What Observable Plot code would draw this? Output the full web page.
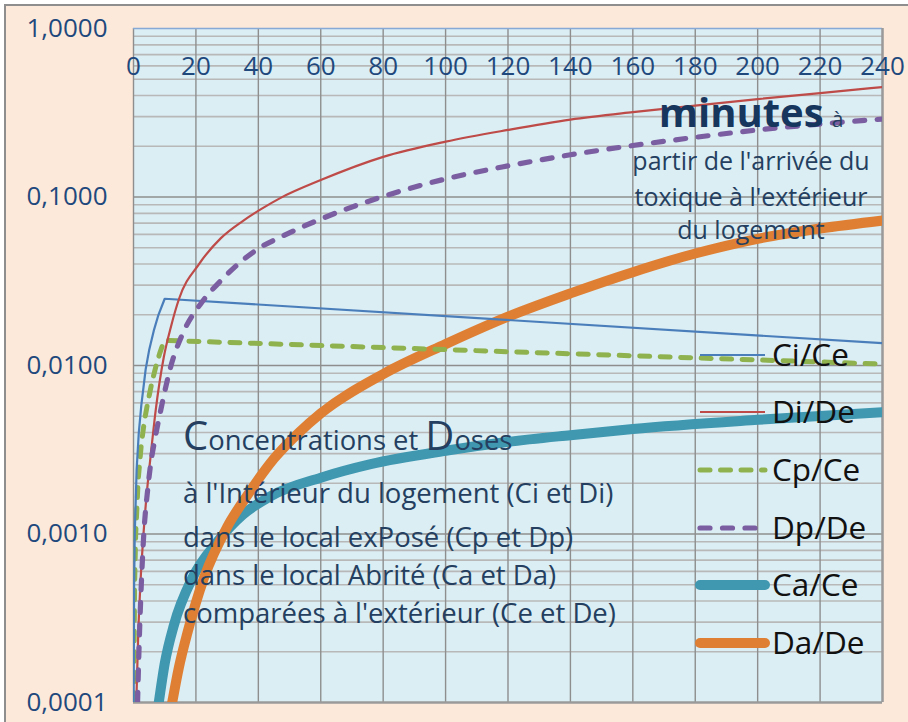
<!DOCTYPE html>
<html>
<head>
<meta charset="utf-8">
<script src="https://cdn.jsdelivr.net/npm/d3@7"></script>
<script src="https://cdn.jsdelivr.net/npm/@observablehq/plot@0.6"></script>
<style>
  html, body { margin: 0; padding: 0; background: #ffffff; }
  #wrap { position: relative; width: 908px; height: 722px; overflow: hidden; font-family: "Open Sans", Lato, sans-serif; }
  #bg { position: absolute; left: 4px; top: 4px; width: 920px; height: 740px; background: #fde9da; border-left: 2px solid #8e8e8e; border-top: 2px solid #8e8e8e; }
  #chart { position: absolute; left: 0; top: 0; }
  #overlay { position: absolute; left: 0; top: 0; pointer-events: none; }
</style>
</head>
<body>
<div id="wrap">
  <div id="bg"></div>
  <div id="chart"></div>
  <svg id="overlay" width="908" height="722"></svg>
</div>
<script>
// ---------- data (minutes, ratio) ----------
const xTicks = [0, 20, 40, 60, 80, 100, 120, 140, 160, 180, 200, 220, 240];
const yMajor = [1, 0.1, 0.01, 0.001, 0.0001];
const yLabels = ["1,0000", "0,1000", "0,0100", "0,0010", "0,0001"];

const seriesNames = ["Ci/Ce", "Di/De", "Cp/Ce", "Dp/De", "Ca/Ce", "Da/De"];

const tCi = [0.04, 0.2, 0.4, 1, 1.7, 2.5, 3.9, 5, 6.5, 8, 10, 240];
const vCi = [0.0001, 0.0005, 0.001, 0.0024, 0.004, 0.0058, 0.0095, 0.0123, 0.0161, 0.0200, 0.0249, 0.01356];

const tDi = [0.9, 1.5, 2.2, 3.2, 4.2, 5.4, 7.1, 9.7, 12, 14.6, 21, 28, 35, 41, 47, 60, 80, 100, 120, 140, 160, 180, 200, 220, 240];
const vDi = [0.0001, 0.00025, 0.0005, 0.001, 0.0017, 0.0028, 0.0054, 0.0112, 0.017, 0.0249, 0.040, 0.057, 0.072, 0.085, 0.0985, 0.126, 0.173, 0.213, 0.25, 0.288, 0.319, 0.349, 0.381, 0.414, 0.449];

const tCp = [0.07, 0.35, 0.7, 1.5, 2.5, 3.5, 4.4, 6, 7.2, 8.4, 9.3, 10, 240];
const vCp = [0.0001, 0.0005, 0.001, 0.0021, 0.0034, 0.0047, 0.0058, 0.0081, 0.0099, 0.0118, 0.0132, 0.0141, 0.0102];

const tDp = [1.3, 1.9, 2.5, 3.3, 4.5, 5.5, 6.8, 8.7, 11.9, 16.2, 21.5, 28, 40.8, 47, 60, 80, 100, 120, 140, 160, 180, 200, 220, 240];
const vDp = [0.0001, 0.00025, 0.0005, 0.001, 0.0018, 0.0026, 0.0036, 0.0054, 0.0098, 0.0161, 0.0232, 0.0319, 0.0504, 0.0577, 0.074, 0.1007, 0.128, 0.153, 0.178, 0.202, 0.226, 0.25, 0.271, 0.29];

const tCa = [8.1, 10, 13, 18.9, 26.9, 35, 44, 60, 76, 100, 119, 140, 160, 200, 240];
const vCa = [0.0001, 0.00017, 0.00029, 0.00055, 0.0009, 0.0013, 0.00168, 0.00216, 0.0026, 0.00312, 0.0035, 0.00386, 0.0042, 0.00476, 0.00528];

const tDa = [12.4, 14.5, 17.3, 22.6, 30, 36.5, 45, 53, 60, 80, 100, 120, 140, 160, 180, 200, 220, 240];
const vDa = [0.0001, 0.00016, 0.00026, 0.00055, 0.0011, 0.0017, 0.0028, 0.0040, 0.0052, 0.0089, 0.0134, 0.0195, 0.0268, 0.0358, 0.0462, 0.0565, 0.065, 0.0725];

// ---------- styles ----------
const styles = {
  "Ci/Ce": {stroke: "#4a7ebb", strokeWidth: 2.2, dash: null, curve: "linear"},
  "Di/De": {stroke: "#be4b48", strokeWidth: 2.2, dash: null, curve: "monotone-x"},
  "Cp/Ce": {stroke: "#8fb24f", strokeWidth: 5, dash: "10,10.5", curve: "linear"},
  "Dp/De": {stroke: "#7b5ea1", strokeWidth: 5.2, dash: "10,12.5", curve: "monotone-x"},
  "Ca/Ce": {stroke: "#3f97b0", strokeWidth: 10, dash: null, curve: "monotone-x"},
  "Da/De": {stroke: "#df7f34", strokeWidth: 10, dash: null, curve: "monotone-x"}
};

const seriesData = {
  "Ci/Ce": tCi.map((t, i) => ({t, v: vCi[i]})),
  "Di/De": tDi.map((t, i) => ({t, v: vDi[i]})),
  "Cp/Ce": tCp.map((t, i) => ({t, v: vCp[i]})),
  "Dp/De": tDp.map((t, i) => ({t, v: vDp[i]})),
  "Ca/Ce": tCa.map((t, i) => ({t, v: vCa[i]})),
  "Da/De": tDa.map((t, i) => ({t, v: vDa[i]}))
};

const drawOrder = ["Ca/Ce", "Da/De", "Cp/Ce", "Ci/Ce", "Di/De", "Dp/De"];

const minorGrid = d3.scaleLog().domain([0.0001, 1]).ticks().filter(d => !yMajor.some(m => Math.abs(m - d) / m < 1e-6));

const FONT = "'Open Sans', Lato, sans-serif";
const axisColor = "#1f497d";
const gridColor = "#8e8e8e";

const chart = Plot.plot({
  width: 908,
  height: 722,
  marginTop: 28,
  marginBottom: 20,
  marginLeft: 133,
  marginRight: 26,
  style: {background: "transparent", fontFamily: FONT, overflow: "visible"},
  x: {domain: [0, 240], axis: null},
  y: {type: "log", domain: [0.0001, 1], axis: null},
  marks: [
    Plot.frame({fill: "#dbeef4", stroke: null}),
    Plot.ruleY(minorGrid, {stroke: "#b8b8b8", strokeWidth: 1.6}),
    Plot.ruleX(xTicks, {stroke: gridColor, strokeWidth: 1.4}),
    Plot.ruleY(yMajor.filter(d => d !== 1 && d !== 0.0001), {stroke: gridColor, strokeWidth: 1.6}),
    Plot.ruleY([1], {stroke: "#87a9d6", strokeWidth: 1.6}),
    Plot.ruleY([0.0001], {stroke: "#9a9a9a", strokeWidth: 2.4}),
    Plot.ruleX([240], {stroke: "#9a9a9a", strokeWidth: 2.4}),
    ...drawOrder.map(name => Plot.line(seriesData[name], {
      x: "t", y: "v",
      stroke: styles[name].stroke,
      strokeWidth: styles[name].strokeWidth,
      strokeDasharray: styles[name].dash,
      strokeLinecap: "round",
      strokeLinejoin: "round",
      curve: styles[name].curve,
      clip: true
    })),
    Plot.text(xTicks, {x: d => d, y: () => 1, dy: 38, text: d => String(d), fontSize: 26, fill: axisColor}),
    Plot.text(yMajor, {x: () => 0, y: d => d, dx: -26, textAnchor: "end", text: (d, i) => yLabels[i], fontSize: 26, fill: axisColor})
  ]
});
document.getElementById("chart").appendChild(chart);

// ---------- overlay: legend and annotations ----------
const ov = d3.select("#overlay");
const legendRows = [355, 412, 470, 528, 585, 643];
seriesNames.forEach((name, i) => {
  const s = styles[name];
  const y = legendRows[i];
  ov.append("line")
    .attr("x1", 700).attr("x2", 765).attr("y1", y).attr("y2", y)
    .attr("stroke", s.stroke)
    .attr("stroke-width", s.strokeWidth)
    .attr("stroke-linecap", s.strokeWidth > 3 ? "round" : "butt")
    .attr("stroke-dasharray", s.dash);
  ov.append("text")
    .attr("x", 772).attr("y", y).attr("dy", "0.36em")
    .attr("font-family", FONT)
    .attr("font-size", 31.5).attr("fill", "#111")
    .text(name);
});

const noteColor = "#243f60";
const mt = ov.append("text").attr("x", 751).attr("y", 127).attr("text-anchor", "middle")
  .attr("font-family", FONT).attr("fill", "#17365d");
mt.append("tspan").attr("font-size", 40).attr("font-weight", "bold").text("minutes");
mt.append("tspan").attr("font-size", 21).attr("dx", 8).attr("fill", noteColor).text("à");

const subLines = [["partir de l'arrivée du", 170], ["toxique à l'extérieur", 206], ["du logement", 239]];
subLines.forEach(([txt, y]) => {
  ov.append("text").attr("x", 751).attr("y", y).attr("text-anchor", "middle")
    .attr("font-family", FONT).attr("font-size", 25)
    .attr("fill", noteColor).text(txt);
});

const title = ov.append("text").attr("x", 183).attr("y", 450)
  .attr("font-family", FONT).attr("fill", noteColor);
title.append("tspan").attr("font-size", 40).text("C");
title.append("tspan").attr("font-size", 27.4).text("oncentrations et ");
title.append("tspan").attr("font-size", 40).text("D");
title.append("tspan").attr("font-size", 27.4).text("oses");

const bodyLines = [["à l'Intérieur du logement (Ci et Di)", 503], ["dans le local exPosé (Cp et Dp)", 547], ["dans le local Abrité (Ca et Da)", 585], ["comparées à l'extérieur (Ce et De)", 623]];
bodyLines.forEach(([txt, y]) => {
  ov.append("text").attr("x", 183).attr("y", y)
    .attr("font-family", FONT).attr("font-size", 27.5)
    .attr("fill", noteColor).text(txt);
});
</script>
</body>
</html>
